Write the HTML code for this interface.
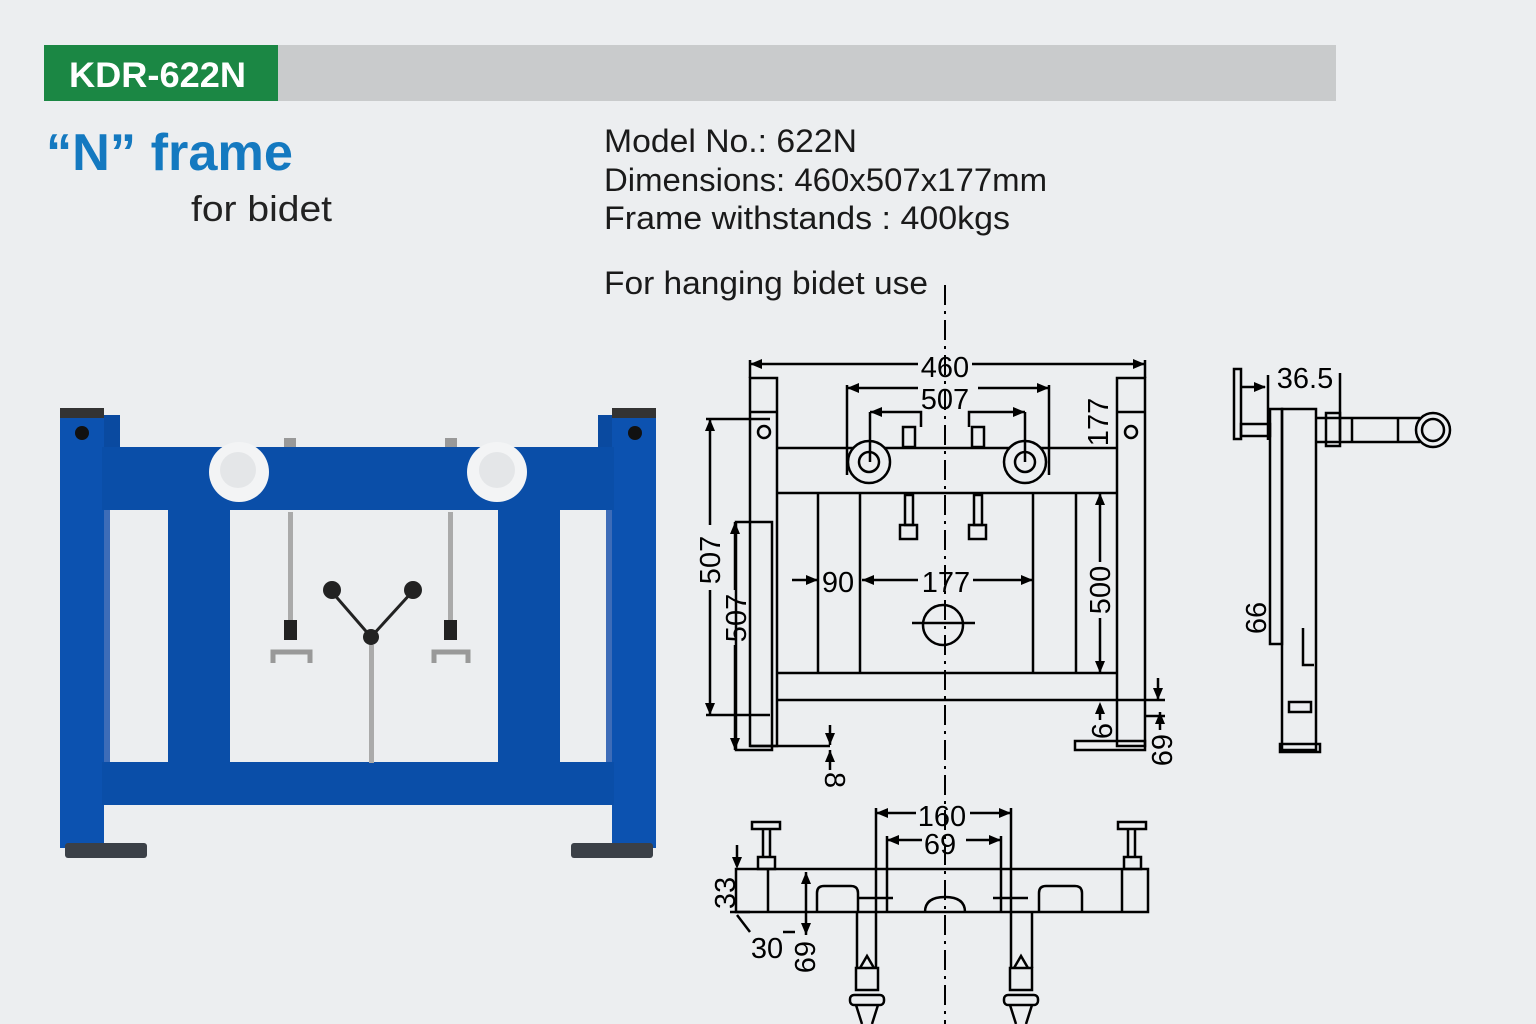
<!DOCTYPE html>
<html><head><meta charset="utf-8"><style>
html,body{margin:0;padding:0;background:#eceef0;}
svg{display:block}
text{font-family:"Liberation Sans",sans-serif;}
</style></head><body>
<svg width="1536" height="1024" viewBox="0 0 1536 1024" xmlns="http://www.w3.org/2000/svg">
<rect width="1536" height="1024" fill="#eceef0"/>
<!-- header -->
<rect x="277" y="45" width="1059" height="56" fill="#c9cbcc"/>
<rect x="44" y="45" width="234" height="56" fill="#1b8744"/>
<text x="69" y="87" font-size="35" font-weight="bold" fill="#fff" textLength="177" lengthAdjust="spacingAndGlyphs">KDR-622N</text>
<text x="46" y="170" font-size="52" font-weight="bold" fill="#1479c0" textLength="247" lengthAdjust="spacingAndGlyphs">“N” frame</text>
<text x="191" y="221" font-size="36" fill="#222" textLength="141" lengthAdjust="spacingAndGlyphs">for bidet</text>
<g font-size="32" fill="#1a1a1a">
<text x="604" y="152" textLength="253" lengthAdjust="spacingAndGlyphs">Model No.: 622N</text>
<text x="604" y="191" textLength="443" lengthAdjust="spacingAndGlyphs">Dimensions: 460x507x177mm</text>
<text x="604" y="229" textLength="406" lengthAdjust="spacingAndGlyphs">Frame withstands :  400kgs</text>
<text x="604" y="294" textLength="324" lengthAdjust="spacingAndGlyphs">For hanging bidet use</text>
</g>

<!-- blue frame -->
<g>
<rect x="102" y="415" width="18" height="40" fill="#0a4aa0"/>
<rect x="598" y="415" width="18" height="40" fill="#0a4aa0"/>
<rect x="60" y="408" width="44" height="440" fill="#0c52b0"/>
<rect x="612" y="408" width="44" height="440" fill="#0c52b0"/>
<rect x="60" y="408" width="44" height="10" fill="#333"/>
<rect x="612" y="408" width="44" height="10" fill="#333"/>
<circle cx="82" cy="433" r="7" fill="#111"/>
<circle cx="635" cy="433" r="7" fill="#111"/>
<rect x="102" y="447" width="512" height="63" fill="#0a4ea8"/>
<rect x="104" y="510" width="6" height="252" fill="#3d6cb8"/>
<rect x="606" y="510" width="6" height="252" fill="#3d6cb8"/>
<rect x="168" y="510" width="62" height="255" fill="#0a4ea8"/>
<rect x="498" y="510" width="62" height="255" fill="#0a4ea8"/>
<rect x="102" y="762" width="512" height="43" fill="#0a4ea8"/>
<rect x="65" y="843" width="82" height="15" rx="3" fill="#3b4047"/>
<rect x="571" y="843" width="82" height="15" rx="3" fill="#3b4047"/>
<circle cx="239" cy="472" r="30" fill="#f3f4f5"/>
<circle cx="238" cy="470" r="18" fill="#e4e6e8"/>
<circle cx="497" cy="472" r="30" fill="#f3f4f5"/>
<circle cx="497" cy="470" r="18" fill="#e4e6e8"/>
<rect x="284" y="438" width="12" height="9" fill="#999"/>
<rect x="445" y="438" width="12" height="9" fill="#999"/>
<rect x="288" y="512" width="5" height="110" fill="#aaa"/>
<rect x="448" y="512" width="5" height="110" fill="#aaa"/>
<rect x="284" y="620" width="13" height="20" fill="#222"/>
<rect x="444" y="620" width="13" height="20" fill="#222"/>
<path d="M273 663 L273 652 L310 652 L310 663 M434 663 L434 652 L468 652 L468 663" stroke="#999" stroke-width="5" fill="none"/>
<path d="M332 592 L371 637 L412 592" stroke="#222" stroke-width="3" fill="none"/>
<circle cx="332" cy="590" r="9" fill="#222"/>
<circle cx="413" cy="590" r="9" fill="#222"/>
<circle cx="371" cy="637" r="8" fill="#222"/>
<rect x="369" y="645" width="5" height="118" fill="#aaa"/>
</g>

<!-- drawings -->
<g stroke="#000" stroke-width="2.5" fill="none">
<line x1="945" y1="285" x2="945" y2="1024" stroke-dasharray="20 6 3 6" stroke-width="2"/>
<rect x="750" y="378" width="27" height="368"/>
<rect x="1117" y="378" width="28" height="368"/>
<line x1="750" y1="412" x2="777" y2="412"/>
<line x1="1117" y1="412" x2="1145" y2="412"/>
<line x1="777" y1="448" x2="1117" y2="448"/>
<line x1="777" y1="493" x2="1117" y2="493"/>
<line x1="777" y1="673" x2="1117" y2="673"/>
<line x1="777" y1="700" x2="1117" y2="700"/>
<line x1="818" y1="493" x2="818" y2="673"/>
<line x1="860" y1="493" x2="860" y2="673"/>
<line x1="1033" y1="493" x2="1033" y2="673"/>
<line x1="1076" y1="493" x2="1076" y2="673"/>
<circle cx="869" cy="462" r="21" fill="#eceef0"/>
<circle cx="869" cy="462" r="10"/>
<circle cx="1025" cy="462" r="21" fill="#eceef0"/>
<circle cx="1025" cy="462" r="10"/>
<circle cx="764" cy="432" r="6"/>
<circle cx="1131" cy="432" r="6"/>
<rect x="903" y="427" width="12" height="20"/>
<rect x="972" y="427" width="12" height="20"/>
<rect x="905" y="495" width="8" height="30"/>
<rect x="974" y="495" width="8" height="30"/>
<rect x="900" y="525" width="17" height="14"/>
<rect x="969" y="525" width="17" height="14"/>
<circle cx="943" cy="625" r="20"/>
<line x1="912" y1="623" x2="975" y2="623"/>
<line x1="750" y1="746" x2="830" y2="746"/>
<rect x="1075" y="741" width="70" height="9"/>
<rect x="736" y="522" width="36" height="228"/>
<line x1="750" y1="364" x2="918" y2="364"/><line x1="972" y1="364" x2="1145" y2="364"/>
<line x1="750" y1="360" x2="750" y2="378"/><line x1="1145" y1="360" x2="1145" y2="378"/>
<line x1="847" y1="388" x2="918" y2="388"/><line x1="978" y1="388" x2="1049" y2="388"/>
<line x1="847" y1="385" x2="847" y2="475"/><line x1="1049" y1="385" x2="1049" y2="475"/>
<path d="M870 412 L921 412 L921 427 M870 412 L870 462 M1025 412 L969 412 L969 427 M1025 412 L1025 462"/>
<line x1="706" y1="419" x2="770" y2="419"/>
<line x1="710" y1="419" x2="710" y2="525"/><line x1="710" y1="590" x2="710" y2="715"/>
<line x1="706" y1="715" x2="770" y2="715"/>
<line x1="735" y1="522" x2="735" y2="590"/><line x1="735" y1="645" x2="735" y2="750"/>
<line x1="792" y1="580" x2="818" y2="580"/>
<line x1="862" y1="580" x2="918" y2="580"/><line x1="973" y1="580" x2="1033" y2="580"/>
<line x1="1100" y1="493" x2="1100" y2="562"/><line x1="1100" y1="618" x2="1100" y2="673"/>
<line x1="1117" y1="700" x2="1165" y2="700"/>
<line x1="1158" y1="678" x2="1158" y2="700"/>
<line x1="1100" y1="705" x2="1100" y2="720"/>
<line x1="1160" y1="712" x2="1160" y2="730"/><line x1="1145" y1="716" x2="1165" y2="716"/>
<line x1="830" y1="725" x2="830" y2="745"/><line x1="830" y1="750" x2="830" y2="770"/>
<rect x="1282" y="409" width="34" height="341"/>
<rect x="1270" y="409" width="12" height="235"/>
<rect x="1234" y="369" width="7" height="70"/>
<rect x="1241" y="424" width="29" height="12"/>
<line x1="1316" y1="418" x2="1420" y2="418"/><line x1="1316" y1="442" x2="1420" y2="442"/>
<rect x="1326" y="413" width="14" height="33"/>
<line x1="1352" y1="418" x2="1352" y2="442"/>
<line x1="1398" y1="418" x2="1398" y2="442"/>
<circle cx="1433" cy="430" r="17"/><circle cx="1433" cy="430" r="11"/>
<rect x="1280" y="744" width="40" height="8"/>
<rect x="1289" y="702" width="22" height="10"/>
<path d="M1303 628 L1303 665 L1314 665"/>
<line x1="1268" y1="375" x2="1268" y2="440"/><line x1="1340" y1="373" x2="1340" y2="440"/>
<line x1="1241" y1="387" x2="1265" y2="387"/>
<rect x="736" y="869" width="412" height="43"/>
<line x1="768" y1="869" x2="768" y2="912"/><line x1="1122" y1="869" x2="1122" y2="912"/>
<path d="M817 912 L817 893 Q817 886 824 886 L851 886 Q858 886 858 893 L858 912"/>
<path d="M1039 912 L1039 893 Q1039 886 1046 886 L1075 886 Q1082 886 1082 893 L1082 912"/>
<path d="M925 912 Q925 897 945 897 Q965 897 965 912"/>
<line x1="858" y1="898" x2="893" y2="898"/><line x1="993" y1="898" x2="1028" y2="898"/>
<line x1="876" y1="808" x2="876" y2="968"/><line x1="1011" y1="808" x2="1011" y2="968"/>
<line x1="887" y1="836" x2="887" y2="912"/><line x1="1001" y1="836" x2="1001" y2="912"/>
<line x1="857" y1="912" x2="857" y2="968"/><line x1="1032" y1="912" x2="1032" y2="968"/>
<rect x="856" y="968" width="22" height="22"/><rect x="1010" y="968" width="22" height="22"/>
<path d="M860 968 L867 956 L874 968 M1014 968 L1021 956 L1028 968"/>
<rect x="850" y="995" width="34" height="10" rx="4"/><rect x="1004" y="995" width="34" height="10" rx="4"/>
<path d="M856 1005 L862 1024 M878 1005 L872 1024 M1010 1005 L1016 1024 M1032 1005 L1026 1024"/>
<rect x="752" y="822" width="28" height="7"/><line x1="763" y1="829" x2="763" y2="857"/><line x1="770" y1="829" x2="770" y2="857"/>
<rect x="758" y="857" width="17" height="12"/>
<rect x="1118" y="822" width="28" height="7"/><line x1="1128" y1="829" x2="1128" y2="857"/><line x1="1135" y1="829" x2="1135" y2="857"/>
<rect x="1124" y="857" width="17" height="12"/>
<line x1="876" y1="813" x2="916" y2="813"/><line x1="970" y1="813" x2="1011" y2="813"/>
<line x1="887" y1="840" x2="922" y2="840"/><line x1="966" y1="840" x2="1001" y2="840"/>
<line x1="737" y1="845" x2="737" y2="866"/>
<line x1="730" y1="912" x2="750" y2="912"/>
<line x1="737" y1="915" x2="750" y2="932"/>
<line x1="806" y1="872" x2="806" y2="935"/>
<line x1="783" y1="932" x2="795" y2="932"/>
</g>
<g fill="#000">
<path d="M750 364 l12 -5 v10z M1145 364 l-12 -5 v10z M847 388 l12 -5 v10z M1049 388 l-12 -5 v10z M870 412 l12 -5 v10z M1025 412 l-12 -5 v10z"/>
<path d="M710 419 l-5 12 h10z M710 715 l-5 -12 h10z M735 522 l-5 12 h10z M735 750 l-5 -12 h10z"/>
<path d="M818 580 l-12 -5 v10z M862 580 l12 -5 v10z M1033 580 l-12 -5 v10z M1100 493 l-5 12 h10z M1100 673 l-5 -12 h10z"/>
<path d="M1158 700 l-5 -12 h10z M1100 702 l-5 12 h10z M1160 712 l-5 12 h10z M830 745 l-5 -12 h10z M830 750 l-5 12 h10z M1266 387 l-12 -5 v10z"/>
<path d="M876 813 l12 -5 v10z M1011 813 l-12 -5 v10z M887 840 l12 -5 v10z M1001 840 l-12 -5 v10z M737 869 l-5 -12 h10z M806 872 l-5 12 h10z M806 935 l-5 -12 h10z"/>
</g>
<g font-size="29" fill="#000">
<text x="945" y="377" text-anchor="middle">460</text>
<text x="945" y="409" text-anchor="middle">507</text>
<text x="838" y="592" text-anchor="middle">90</text>
<text x="946" y="592" text-anchor="middle">177</text>
<text x="942" y="826" text-anchor="middle">160</text>
<text x="940" y="854" text-anchor="middle">69</text>
<text x="1305" y="388" text-anchor="middle">36.5</text>
<text x="767" y="958" text-anchor="middle">30</text>
<text transform="translate(720,560) rotate(-90)" text-anchor="middle">507</text>
<text transform="translate(746,618) rotate(-90)" text-anchor="middle">507</text>
<text transform="translate(1110,590) rotate(-90)" text-anchor="middle">500</text>
<text transform="translate(1108,422) rotate(-90)" text-anchor="middle">177</text>
<text transform="translate(1112,731) rotate(-90)" text-anchor="middle">6</text>
<text transform="translate(1152,750) rotate(90)" text-anchor="middle">69</text>
<text transform="translate(825,780) rotate(90)" text-anchor="middle">8</text>
<text transform="translate(1266,618) rotate(-90)" text-anchor="middle">66</text>
<text transform="translate(735,893) rotate(-90)" text-anchor="middle">33</text>
<text transform="translate(795,957) rotate(90)" text-anchor="middle">69</text>
</g>
</svg>
</body></html>
